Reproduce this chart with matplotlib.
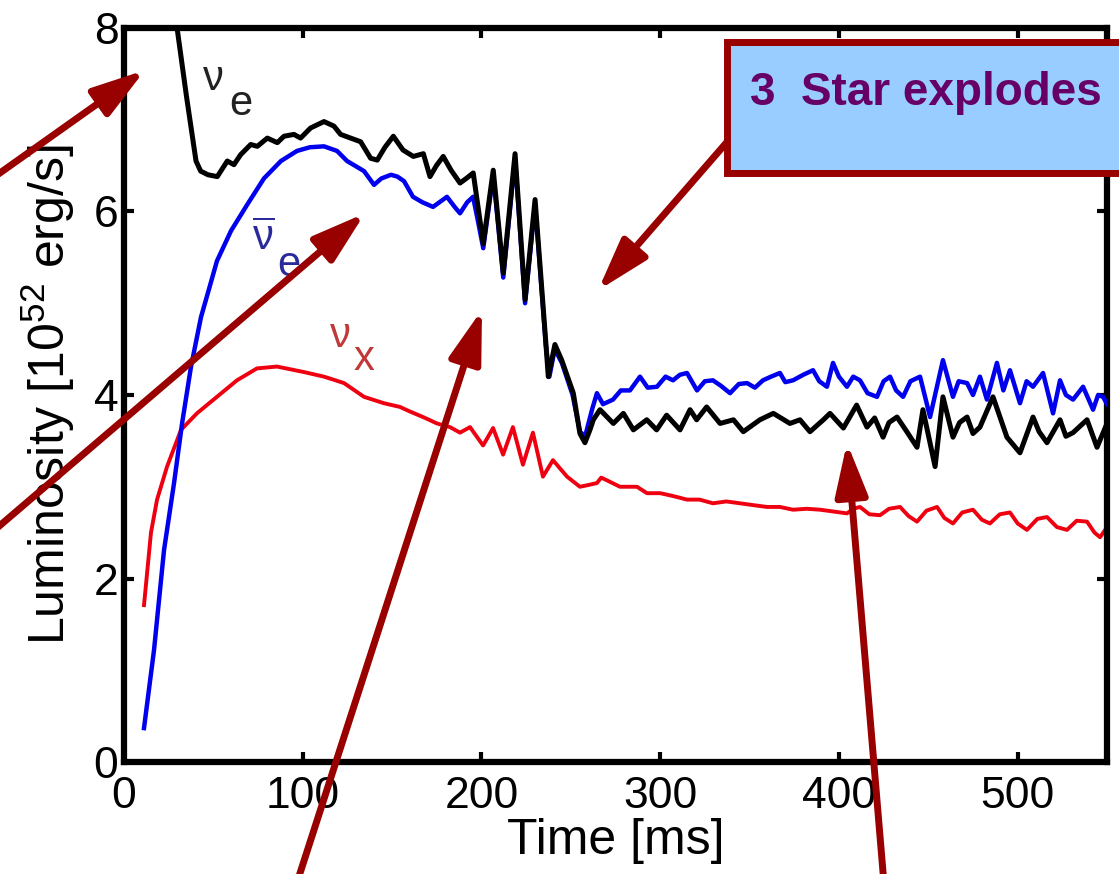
import matplotlib
matplotlib.use("Agg")
import matplotlib.pyplot as plt
from matplotlib.patches import Rectangle

plt.rcParams['font.family'] = ['Liberation Sans', 'DejaVu Sans']
plt.rcParams['mathtext.fontset'] = 'custom'
plt.rcParams['mathtext.rm'] = 'Liberation Sans'
plt.rcParams['mathtext.it'] = 'Liberation Sans'
plt.rcParams['mathtext.bf'] = 'Liberation Sans:bold'

# ---------------- data ----------------
t_nue = [28, 29.7, 35, 40.3, 42.9, 47, 52.2, 57.8, 61.5, 65.3, 70.9, 74.6, 80.2, 85.8,
         89.5, 95.1, 98.8, 104.4, 111.9, 117.5, 121.2, 126.8, 132.4, 138, 141.7, 146,
         150.7, 156.1, 161.9, 167.5, 171.2, 174.8, 178.6, 183, 188, 191.5, 195.4, 201,
         206.6, 212.2, 218.8, 224.4, 230, 235.9, 237.4, 241.1, 244.9, 251.4, 255.1,
         257.9, 260.7, 262.6, 266.3, 273.8, 279.4, 285, 292.5, 298, 303.6, 311.1,
         316.7, 320.4, 326, 333.5, 341, 346.5, 355.8, 363.3, 372.6, 378.2, 383.8,
         391.3, 395, 402.5, 409.9, 415.7, 420, 424.7, 428, 432.5, 438, 443.7, 447,
         453.8, 458.2, 463.8, 467.5, 471.7, 475, 478.9, 486.2, 494, 501.3, 508.6,
         512, 516.4, 523.7, 527, 531, 538.8, 544.4, 550]
L_nue = [8.6, 8.0, 7.25, 6.55, 6.44, 6.40, 6.38, 6.55, 6.51, 6.62, 6.73, 6.71, 6.80, 6.75,
         6.82, 6.84, 6.80, 6.91, 6.98, 6.93, 6.84, 6.80, 6.76, 6.58, 6.56, 6.70,
         6.82, 6.67, 6.60, 6.63, 6.38, 6.50, 6.60, 6.45, 6.31, 6.36, 6.42, 5.65,
         6.45, 5.33, 6.63, 5.04, 6.13, 4.60, 4.20, 4.55, 4.38, 4.02, 3.58,
         3.48, 3.62, 3.73, 3.84, 3.69, 3.80, 3.62, 3.73, 3.62, 3.78, 3.62,
         3.84, 3.73, 3.87, 3.69, 3.73, 3.60, 3.73, 3.80, 3.69, 3.73, 3.60,
         3.73, 3.80, 3.64, 3.89, 3.65, 3.75, 3.54, 3.70, 3.76, 3.60, 3.43, 3.84,
         3.22, 3.98, 3.54, 3.70, 3.76, 3.58, 3.65, 3.98, 3.54, 3.37, 3.76,
         3.60, 3.48, 3.73, 3.55, 3.59, 3.73, 3.43, 3.69]

t_anue = [11.2, 16.8, 22.4, 28, 32.5, 37.5, 43.1, 47.5, 52, 59.9, 68.8, 78.3, 87.8, 96.8,
          104, 111.9, 119.2, 124.8, 130, 134.3, 139.9, 144, 149.4, 153, 156.7, 161.7,
          167, 172.9, 180.7, 185, 188, 192, 195.3, 198, 201, 206.6, 212.2, 218.8, 224.4,
          230, 236, 238, 241, 245, 251, 255.1, 258, 262, 264.6, 268, 273.6, 278, 283.1,
          288.7, 293, 298.2, 303, 307.2, 311, 315, 320.6, 325, 329.5, 334, 339.1, 344,
          348.6, 353, 357.5, 362, 367, 370, 374.3, 380, 385.5, 389, 393.3, 396.7, 400,
          404.5, 408, 411.8, 416, 421.3, 425, 428.6, 432, 435.9, 440, 445.4, 451, 458.2,
          463.8, 467, 471.7, 475, 478.9, 482.8, 488.4, 492, 495.7, 501.3, 505, 508.6,
          514.2, 519.8, 523.7, 527, 531, 536.6, 542.2, 545, 547.8, 550]
L_anue = [0.37, 1.22, 2.31, 3.04, 3.69, 4.31, 4.85, 5.15, 5.46, 5.79, 6.07, 6.36, 6.55, 6.66,
          6.70, 6.71, 6.66, 6.55, 6.49, 6.44, 6.29, 6.36, 6.40, 6.38, 6.33, 6.16,
          6.10, 6.05, 6.16, 6.05, 5.98, 6.10, 6.16, 5.90, 5.60, 6.40, 5.28, 6.58, 5.00,
          6.08, 4.55, 4.20, 4.50, 4.35, 4.00, 3.60, 3.55, 3.85, 4.02, 3.90, 3.95, 4.05, 4.05,
          4.20, 4.08, 4.09, 4.20, 4.16, 4.22, 4.24, 4.05, 4.15, 4.16, 4.10, 4.02, 4.12,
          4.13, 4.08, 4.16, 4.20, 4.24, 4.14, 4.16, 4.22, 4.27, 4.15, 4.09, 4.35, 4.20,
          4.09, 4.20, 4.16, 4.02, 3.98, 4.15, 4.20, 4.05, 3.98, 4.15, 4.20, 3.76, 4.38,
          3.98, 4.15, 4.13, 4.00, 4.20, 3.95, 4.35, 4.05, 4.27, 3.91, 4.15, 4.09,
          4.24, 3.80, 4.16, 4.00, 3.95, 4.09, 3.84, 4.00, 3.98, 3.90]

t_nux = [11.2, 15.1, 18.5, 24.1, 31.9, 40.8, 52, 63.2, 74.4, 85.6, 100.7, 111.9, 123.1,
         134.3, 145.5, 154.4, 160, 167.3, 175.1, 182.4, 188, 193.6, 200.9, 206.5, 212.1,
         217.6, 223.2, 228.8, 234.4, 240, 247.9, 255.1, 260, 264.6, 267, 270.2, 277.5,
         287, 292.6, 300, 307, 315, 322, 329.5, 337, 344.6, 352, 359.8, 367, 374.3, 382,
         389.4, 397, 404.5, 408, 411.8, 417, 423, 428, 434.2, 439, 443.7, 449, 454.9,
         459, 463.8, 469, 475, 480, 484.5, 490, 495.7, 500, 505.2, 511, 516.4, 522,
         527.6, 533, 538.8, 543, 546.1, 550]
L_nux = [1.71, 2.50, 2.86, 3.22, 3.62, 3.80, 3.98, 4.16, 4.29, 4.31, 4.25, 4.20, 4.13,
         3.98, 3.91, 3.87, 3.82, 3.76, 3.69, 3.65, 3.59, 3.65, 3.45, 3.64, 3.35,
         3.65, 3.24, 3.59, 3.11, 3.29, 3.11, 3.00, 3.02, 3.04, 3.10, 3.07, 3.00,
         3.00, 2.93, 2.93, 2.90, 2.86, 2.86, 2.82, 2.84, 2.82, 2.80, 2.78, 2.78, 2.75, 2.76,
         2.75, 2.73, 2.71, 2.76, 2.78, 2.70, 2.69, 2.76, 2.78, 2.68, 2.62, 2.74, 2.78,
         2.66, 2.60, 2.72, 2.75, 2.64, 2.60, 2.70, 2.72, 2.60, 2.53, 2.65, 2.67, 2.56,
         2.53, 2.63, 2.62, 2.50, 2.45, 2.56]

x_ticks = [0, 100, 200, 300, 400, 500]
y_ticks = [0, 2, 4, 6, 8]
x_label = 'Time [ms]'
y_label = r'Luminosity [10$^{52}$ erg/s]'
box_text = '3  Star explodes'

# arrow tips (data coords) and tails (figure fraction)
arrow_tips = [(11.7, 7.54), (134.8, 5.98), (200.3, 4.93), (404.5, 3.48), (265.2, 5.14)]
arrow_tails = [(-0.009, 0.794), (-0.009, 0.389), (0.265, -0.0114), (0.790, -0.0114), (0.6497, 0.8375)]

# ---------------- figure ----------------
fig = plt.figure(figsize=(11.19, 8.74), dpi=100)
ax = fig.add_axes([0.1108, 0.1281, 0.8785, 0.8399])

ax.plot(t_nux, L_nux, color='#EE0010', lw=2.8, solid_joinstyle='round', zorder=2)
ax.plot(t_anue, L_anue, color='#0000EE', lw=3.2, solid_joinstyle='round', zorder=3)
ax.plot(t_nue, L_nue, color='black', lw=3.6, solid_joinstyle='round', zorder=4)

ax.set_xlim(0, 550)
ax.set_ylim(0, 8)
ax.set_xticks(x_ticks)
ax.set_yticks(y_ticks)
ax.tick_params(direction='in', length=7, width=3, top=True, right=True,
               labelsize=32, colors='black')
ax.tick_params(axis='x', pad=10)
ax.tick_params(axis='y', pad=4)
for s in ax.spines.values():
    s.set_linewidth(4.5)

ax.set_xlabel(x_label, fontsize=36)
ax.set_ylabel(y_label, fontsize=36)
ax.xaxis.set_label_coords(0.5, -0.076)
ax.yaxis.set_label_coords(-0.048, 0.5)

# curve labels
ax.text(43.6, 7.32, r'$\nu$', fontsize=30, color='#222222', va='baseline')
ax.text(58.7, 7.05, 'e', fontsize=30, color='#222222', va='baseline')
ax.text(71.6, 5.58, r'$\overline{\nu}$', fontsize=30, color='#2a2a9a', va='baseline')
ax.text(85.6, 5.30, 'e', fontsize=30, color='#2a2a9a', va='baseline')
ax.text(114.7, 4.52, r'$\nu$', fontsize=30, color='#c03838', va='baseline')
ax.text(128.7, 4.27, 'x', fontsize=30, color='#c03838', va='baseline')

# arrows
for tip, tail in zip(arrow_tips, arrow_tails):
    ax.annotate('', xy=tip, xycoords='data', xytext=tail, textcoords='figure fraction',
                arrowprops=dict(arrowstyle='-|>,head_length=0.55,head_width=0.17',
                                mutation_scale=58, lw=5, color='#990000',
                                shrinkA=0, shrinkB=0),
                annotation_clip=False, zorder=10)

# callout box
fig.patches.append(Rectangle((0.6497, 0.802), 0.36, 0.150, transform=fig.transFigure,
                             facecolor='#99CCFF', edgecolor='#990000', lw=5, zorder=20))
fig.text(0.670, 0.880, box_text, fontsize=33, fontweight='bold', color='#660066',
         va='baseline', ha='left', zorder=21)

fig.savefig('out.png', dpi=100)
